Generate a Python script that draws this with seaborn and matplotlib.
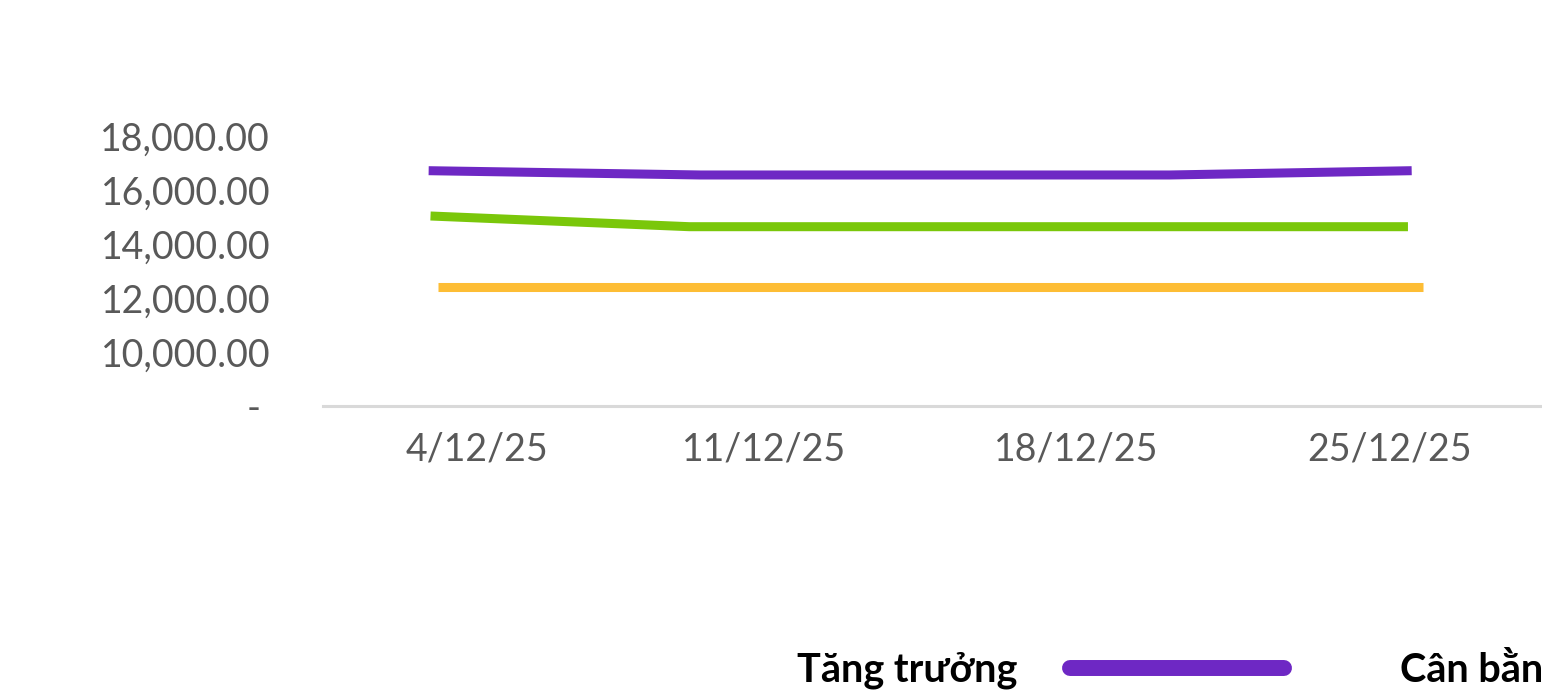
import pandas as pd
import numpy as np
import matplotlib
matplotlib.use('Agg')
import matplotlib.pyplot as plt
from matplotlib.lines import Line2D
from matplotlib.ticker import FuncFormatter
import seaborn as sns

# --- DATA ---
series_names = ["Tăng trưởng", "Cân bằng", "An toàn"]
colors = ["#6e28c4", "#7ac70a", "#fdbd35"]

growth_dates = ["2025-12-03 12:00", "2025-12-09 14:00", "2025-12-20 02:00", "2025-12-25 12:00"]
growth_vals = [16715, 16556, 16556, 16715]

balanced_dates = ["2025-12-03 13:00", "2025-12-09 08:00", "2025-12-25 10:00"]
balanced_vals = [15037, 14641, 14641]

safe_dates = ["2025-12-03 17:00", "2025-12-25 18:00"]
safe_vals = [12419, 12419]

tick_dates = ["2025-12-04 14:00", "2025-12-11 00:00", "2025-12-18 00:00", "2025-12-25 00:00"]
tick_labels = ["4/12/25", "11/12/25", "18/12/25", "25/12/25"]
y_ticks = [8000, 10000, 12000, 14000, 16000, 18000]

# --- build long table for seaborn ---
frames = []
for name, d, v in [(series_names[0], growth_dates, growth_vals),
                   (series_names[1], balanced_dates, balanced_vals),
                   (series_names[2], safe_dates, safe_vals)]:
    frames.append(pd.DataFrame({"date": pd.to_datetime(d), "value": v, "series": name}))
df = pd.concat(frames, ignore_index=True)

sns.set_theme(style="white")
plt.rcParams['font.family'] = ['Lato', 'DejaVu Sans']

fig = plt.figure(figsize=(15.42, 6.9), dpi=100)
ax = fig.add_axes([323 / 1542, 1 - 406 / 690, (1542 - 323) / 1542, 270 / 690])

sns.lineplot(data=df, x="date", y="value", hue="series", hue_order=series_names,
             palette=colors, linewidth=6.5, legend=False, ax=ax,
             solid_capstyle="butt", solid_joinstyle="round")

ax.set_xlim(pd.Timestamp("2025-12-01 03:15"), pd.Timestamp("2025-12-28 10:00"))
ax.set_ylim(8000, 18000)

ax.set_xticks(pd.to_datetime(tick_dates))
ax.set_xticklabels(tick_labels)
ax.set_yticks(y_ticks)
ax.yaxis.set_major_formatter(FuncFormatter(lambda v, p: "- " if v <= 8000 else f"{v:,.2f}"))

ax.tick_params(axis="both", length=0, labelsize=27, labelcolor="#595959")
ax.tick_params(axis="y", pad=38)
ax.tick_params(axis="x", pad=18)
ax.set_xlabel("")
ax.set_ylabel("")

for s in ["top", "right", "left"]:
    ax.spines[s].set_visible(False)
ax.spines["bottom"].set_color("#d9d9d9")
ax.spines["bottom"].set_linewidth(2.2)
ax.grid(False)

# legend at the bottom: text first, then a thick rounded line
handles = [Line2D([0], [0], color=c, linewidth=11.5, solid_capstyle="round") for c in colors]
leg = fig.legend(handles, series_names, loc="center left", bbox_to_anchor=(797 / 1542, 1 - 668 / 690),
                 ncol=3, frameon=False, markerfirst=False, borderpad=0, borderaxespad=0,
                 handlelength=5.4, handletextpad=1.34, columnspacing=2.93,
                 prop={"family": "Lato", "weight": "bold", "size": 28.5})
for t in leg.get_texts():
    t.set_color("black")

fig.savefig("out.png", dpi=100)
